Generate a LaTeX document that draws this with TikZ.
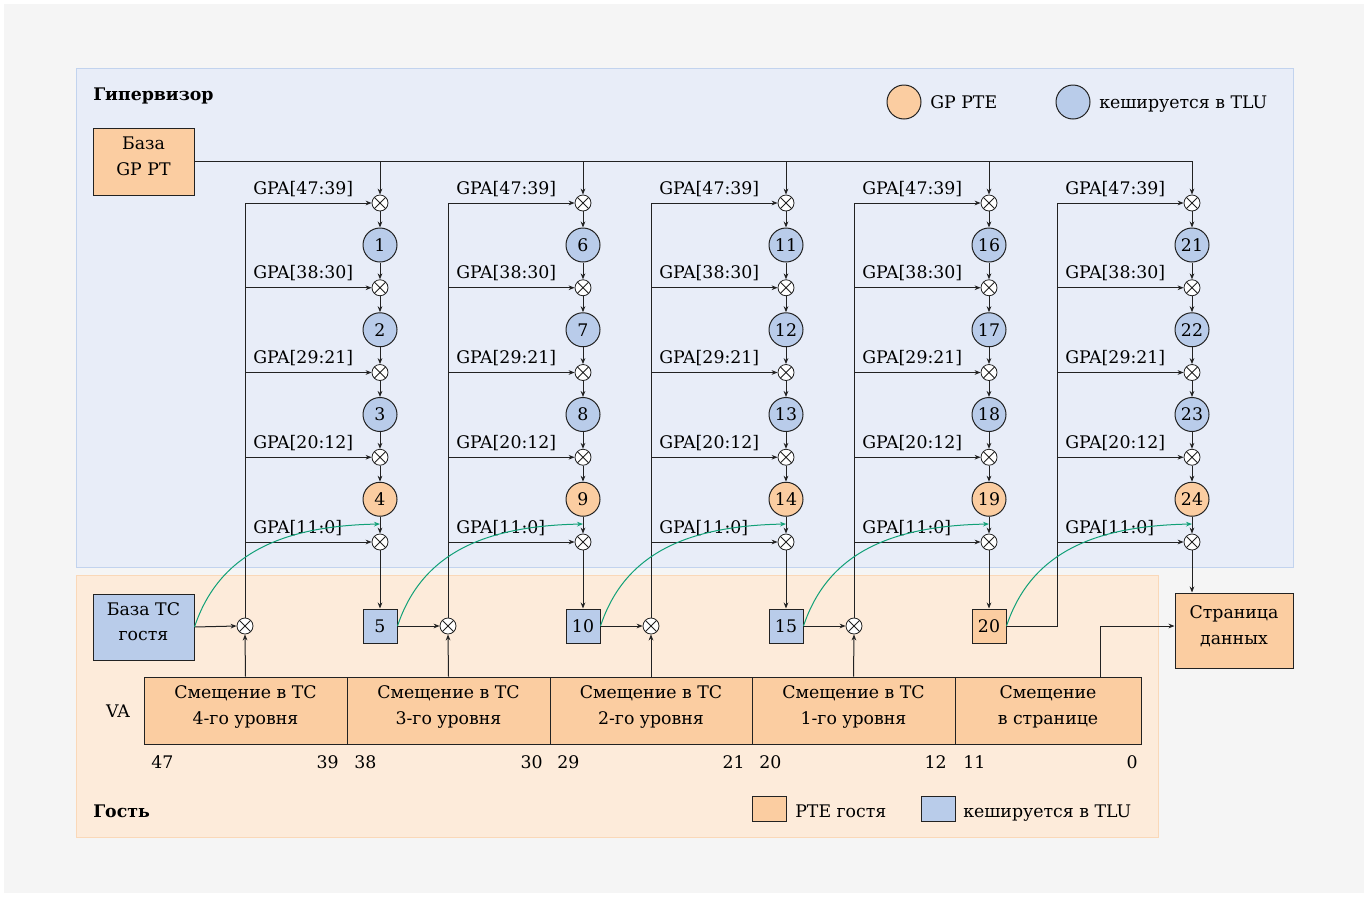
\documentclass[tikz,border=0pt]{standalone}
\usepackage{fontspec}
\setmainfont{DejaVu Serif}
\usetikzlibrary{arrows.meta,calc}
\definecolor{bgout}{HTML}{F5F5F5}
\definecolor{hypf}{HTML}{E8EDF8}
\definecolor{hypd}{HTML}{C2D3EE}
\definecolor{gstf}{HTML}{FDEBDA}
\definecolor{gstd}{HTML}{FAD8B8}
\definecolor{orangef}{HTML}{FBCDA1}
\definecolor{bluef}{HTML}{B9CCEA}
\definecolor{linec}{HTML}{222222}
\definecolor{greenc}{HTML}{11A077}
\newcommand\dtxt{\fontsize{13}{19}\selectfont}
\newcommand\twol[2]{\raisebox{3pt}[\height][\depth]{\begin{tabular}{@{}c@{}}#1\\#2\end{tabular}}}
\begin{document}
\begin{tikzpicture}[x=0.75pt,y=-0.75pt,
  line/.style={draw=linec, line width=0.75pt},
  arr/.style={line, -{Stealth[length=4.5pt,width=3.5pt]}},
  garr/.style={draw=greenc, line width=0.75pt, -{Stealth[length=4.5pt,width=3.5pt]}},
  mult/.style={circle, draw=linec, fill=white, line width=0.6pt, minimum size=12pt, inner sep=0pt,
    path picture={\draw[linec, line width=0.6pt]
      ([shift={(45:6pt)}]path picture bounding box.center) -- ([shift={(225:6pt)}]path picture bounding box.center)
      ([shift={(135:6pt)}]path picture bounding box.center) -- ([shift={(315:6pt)}]path picture bounding box.center);}},
  pte/.style={circle, draw=linec, line width=0.75pt, minimum size=25.5pt, inner sep=0pt, font=\dtxt},
  sbox/.style={rectangle, draw=linec, line width=0.75pt, minimum width=25.5pt, minimum height=25.5pt, inner sep=0pt, font=\dtxt},
  bigbox/.style={rectangle, draw=linec, line width=0.75pt, inner sep=0pt, align=center, font=\dtxt},
  vabox/.style={rectangle, draw=linec, line width=0.75pt, fill=orangef, inner sep=0pt, align=center, font=\dtxt, minimum height=50.25pt},
  lbl/.style={inner sep=0pt, font=\dtxt},
  head/.style={inner sep=0pt, font=\dtxt\bfseries, anchor=base west}
]
\useasboundingbox (0,0) rectangle (1368,897);
\fill[white] (0,0) rectangle (1368,897);
\fill[bgout] (4,4) rectangle (1364,893);
% regions
\draw[fill=hypf, draw=hypd, line width=0.75pt] (76,68) rectangle (1293,567);
\draw[fill=gstf, draw=gstd, line width=0.75pt] (76,575) rectangle (1158,837);
\node[head] (hyp) at (93,100) {Гипервизор};
\node[head] (gst) at (93,817) {Гость};
% legends
\node[pte, fill=orangef] (lg1) at (904,102) {};
\node[lbl, anchor=base west] (lg1t) at (930,108) {GP PTE};
\node[pte, fill=bluef] (lg2) at (1073,102) {};
\node[lbl, anchor=base west] (lg2t) at (1099,108) {кешируется в TLU};
\node[sbox, fill=orangef, minimum height=18.75pt] (lg3) at (769,808.5) {};
\node[lbl, anchor=base west] (lg3t) at (795,817) {PTE гостя};
\node[sbox, fill=bluef, minimum height=18.75pt] (lg4) at (938,808.5) {};
\node[lbl, anchor=base west] (lg4t) at (963,817) {кешируется в TLU};
% base boxes
\node[bigbox, fill=orangef, minimum width=75.75pt, minimum height=50.25pt] (gpbase) at (143.5,161.5) {\twol{База}{GP PT}};
\node[bigbox, fill=bluef, minimum width=75.75pt, minimum height=49.5pt] (tcbase) at (143.5,627) {\twol{База ТС}{гостя}};
\node[bigbox, fill=orangef, minimum width=88.5pt, minimum height=56.25pt] (page) at (1234,630.5) {\twol{Страница}{данных}};
% VA
\node[lbl] (va) at (118,711) {VA};
\node[vabox, minimum width=152.25pt] (va0) at (245.5,710.5) {\twol{Смещение в ТС}{4-го уровня}};
\node[vabox, minimum width=152.25pt] (va1) at (448.5,710.5) {\twol{Смещение в ТС}{3-го уровня}};
\node[vabox, minimum width=151.5pt] (va2) at (651,710.5) {\twol{Смещение в ТС}{2-го уровня}};
\node[vabox, minimum width=152.25pt] (va3) at (853.5,710.5) {\twol{Смещение в ТС}{1-го уровня}};
\node[vabox, minimum width=139.5pt] (va4) at (1048,710.5) {\twol{Смещение}{в странице}};
% bit numbers
\node[lbl, anchor=base west] (n47) at (151,768) {47};
\node[lbl, anchor=base east] (n39) at (339,768) {39};
\node[lbl, anchor=base west] (n38) at (354,768) {38};
\node[lbl, anchor=base east] (n30) at (543,768) {30};
\node[lbl, anchor=base west] (n29) at (557,768) {29};
\node[lbl, anchor=base east] (n21) at (745,768) {21};
\node[lbl, anchor=base west] (n20) at (759,768) {20};
\node[lbl, anchor=base east] (n12) at (947,768) {12};
\node[lbl, anchor=base west] (n11) at (963,768) {11};
\node[lbl, anchor=base east] (n0) at (1138,768) {0};
% columns
\foreach \i in {0,...,4}{
  \pgfmathsetmacro\cx{380+203*\i}
  \pgfmathsetmacro\xin{245+203*\i}
  \coordinate (top\i) at (\xin,203);
  \coordinate (hl\i) at (\cx,161);
  \coordinate (t\i) at (\cx,524);
  \foreach \k in {0,...,4}{
    \pgfmathsetmacro\yy{203+84.75*\k}
    \node[mult] (m\i\k) at (\cx,\yy) {};
  }
  \foreach \j in {0,...,3}{
    \pgfmathsetmacro\yy{245+84.75*\j}
    \pgfmathtruncatemacro\num{5*\i+\j+1}
    \ifnum\j=3 \def\fc{orangef}\else\def\fc{bluef}\fi
    \node[pte, fill=\fc] (c\i\j) at (\cx,\yy) {\num};
  }
  \foreach \k/\lab in {0/{GPA[47:39]},1/{GPA[38:30]},2/{GPA[29:21]},3/{GPA[20:12]},4/{GPA[11:0]}}{
    \pgfmathsetmacro\yy{203+84.75*\k}
    \node[lbl, anchor=base west] (l\i\k) at (\xin+8,\yy-9) {\lab};
    \draw[arr] (\xin,\yy) -- (m\i\k.west);
  }
  \draw[arr] (hl\i) -- (m\i0.north);
  \foreach \j in {0,...,3}{
    \pgfmathtruncatemacro\kn{\j+1}
    \draw[arr] (m\i\j.south) -- (c\i\j.north);
    \draw[arr] (c\i\j.south) -- (m\i\kn.north);
  }
}
% guest boxes
\foreach \i/\num/\fc in {0/5/bluef,1/10/bluef,2/15/bluef,3/20/orangef}{
  \pgfmathsetmacro\cx{380+203*\i}
  \pgfmathsetmacro\xin{245+203*\i}
  \node[sbox, fill=\fc] (b\i) at (\cx,626) {\num};
  \node[mult] (g\i) at (\xin,626) {};
  \draw[arr] (m\i4.south) -- (b\i.north);
  \draw[line] (g\i.north) -- (top\i);
  \draw[arr] (va\i.north) -- (g\i.south);
}
\draw[line] (gpbase.east |- hl0) -- (hl4);
\draw[arr] (tcbase.east) -- (g0.west);
\draw[arr] (b0.east) -- (g1.west);
\draw[arr] (b1.east) -- (g2.west);
\draw[arr] (b2.east) -- (g3.west);
\draw[line] (b3.east) -| (top4);
\draw[arr] (m44.south) -- (page.north -| m44);
\coordinate (off) at (1100,677);
\draw[arr] (off) |- ($(page.west)+(0,-4.5)$);
% green curves
\draw[garr] (tcbase.east) .. controls +(24,-72) and +(-100,2) .. (t0);
\draw[garr] (b0.east) .. controls +(24,-72) and +(-100,2) .. (t1);
\draw[garr] (b1.east) .. controls +(24,-72) and +(-100,2) .. (t2);
\draw[garr] (b2.east) .. controls +(24,-72) and +(-100,2) .. (t3);
\draw[garr] (b3.east) .. controls +(24,-72) and +(-100,2) .. (t4);
\end{tikzpicture}
\end{document}
